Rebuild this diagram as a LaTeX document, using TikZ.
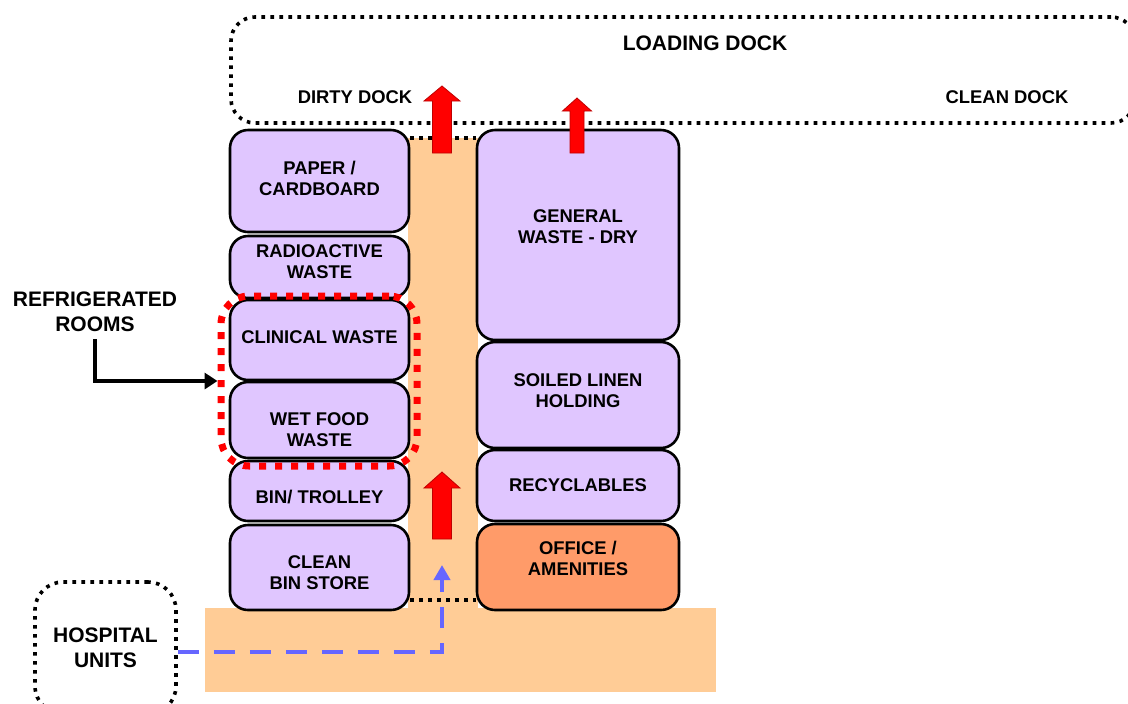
\documentclass[tikz,border=0pt]{standalone}
\usepackage{fontspec}
\setmainfont{Liberation Sans}
\usetikzlibrary{arrows.meta}

\definecolor{roomfill}{RGB}{224,198,255}
\definecolor{corridor}{RGB}{255,204,150}
\definecolor{officefill}{RGB}{255,155,105}
\definecolor{flowblue}{RGB}{102,102,255}

% block arrow: x, tip y, base y, head width, shaft width, head length
\newcommand{\redarrow}[6]{%
  \filldraw[fill=red, draw=red!75!black, line width=0.4pt]
    (#1-#5/2,#3) -- (#1-#5/2,#2+#6) -- (#1-#4/2,#2+#6) -- (#1,#2)
    -- (#1+#4/2,#2+#6) -- (#1+#5/2,#2+#6) -- (#1+#5/2,#3) -- cycle;}
% struts to nudge room labels up / down
\newcommand{\liftby}[1]{\rule[-#1]{0pt}{0pt}}
\newcommand{\dropby}[1]{\rule{0pt}{#1}}

\tikzset{
  room/.style={draw, line width=1.3pt, rounded corners=9pt, fill=roomfill, align=center,
    inner sep=0pt, font=\bfseries\fontsize{9.2}{10.5}\selectfont},
  leftroom/.style={room, minimum width=89.5pt},
  rightroom/.style={room, minimum width=101pt},
  bigtext/.style={align=center, font=\bfseries\fontsize{10.5}{12.5}\selectfont},
  docktext/.style={font=\bfseries\fontsize{9.2}{10.5}\selectfont},
  dotline/.style={line width=1.8pt, dash pattern=on 1.8pt off 2.7pt},
  flow/.style={flowblue, line width=2pt, dash pattern=on 10.5pt off 7.5pt, -{Triangle[length=7.5pt,width=8pt]}}
}

\begin{document}
\begin{tikzpicture}[x=0.5pt, y=-0.5pt]
  \useasboundingbox (0,0) rectangle (1128,703);

  % corridor
  \fill[corridor] (408,138) rectangle (478,608);
  \fill[corridor] (205,608) rectangle (716,692);

  % loading dock
  \node[draw, dotline, rounded corners=12pt, minimum width=452pt, minimum height=53pt] (dock) at (683,70) {};
  \node[bigtext] (docklabel) at (705,43) {LOADING DOCK};
  \node[docktext] (dirty) at (355,97) {DIRTY DOCK};
  \node[docktext] (clean) at (1007,97) {CLEAN DOCK};

  % left rooms
  \node[leftroom, minimum height=51pt] (paper) at (319.5,181) {PAPER /\\CARDBOARD\liftby{3pt}};
  \node[leftroom, minimum height=31pt] (radio) at (319.5,267) {RADIOACTIVE\\WASTE\liftby{5pt}};
  \node[leftroom, minimum height=40pt] (clinical) at (319.5,340) {CLINICAL WASTE\liftby{3pt}};
  \node[leftroom, minimum height=38pt] (wetfood) at (319.5,420) {\dropby{15.8pt}WET FOOD\\WASTE};
  \node[leftroom, minimum height=30pt] (bin) at (319.5,491) {\dropby{12.8pt}BIN/ TROLLEY};
  \node[leftroom, minimum height=42.5pt] (cleanbin) at (319.5,567.5) {\dropby{11.8pt}CLEAN\\BIN STORE};

  % right rooms
  \node[rightroom, minimum height=105pt] (general) at (578,235) {GENERAL\\WASTE - DRY\liftby{8pt}};
  \node[rightroom, minimum height=53pt] (soiled) at (578,395) {SOILED LINEN\\HOLDING\liftby{4pt}};
  \node[rightroom, minimum height=35.5pt] (recycl) at (578,485.5) {RECYCLABLES};
  \node[rightroom, minimum height=43pt, fill=officefill] (office) at (578,567) {OFFICE /\\AMENITIES\liftby{9pt}};

  % corridor ends
  \draw[dotline] (paper.east |- 0,138) -- (general.west |- 0,138);
  \draw[dotline] (cleanbin.east |- 0,600) -- (office.west |- 0,600);

  % refrigerated rooms
  \node[draw=red, line width=3.5pt, dash pattern=on 3.5pt off 4.5pt, rounded corners=14pt,
    minimum width=98pt, minimum height=85pt] (fridge) at (319,381) {};
  \node[bigtext] (refrig) at (95,312) {REFRIGERATED\\ROOMS};
  \draw[line width=2pt, -{Triangle[length=6.5pt,width=8pt]}] (refrig.south) |- (fridge.west);

  % waste flow
  \redarrow{442}{86}{153}{36}{19}{15}
  \redarrow{577}{98}{153}{29}{14}{13}
  \redarrow{442}{472}{539}{36}{19}{16}

  % hospital units
  \node[draw, dotline, rounded corners=14pt, minimum width=70.5pt, minimum height=66pt, bigtext] (hospital) at (105.5,648) {HOSPITAL\\UNITS};
  \coordinate (turn) at (442,652);
  \coordinate (entry) at (442,565);
  \draw[flow] (hospital.east |- turn) -- (turn) -- (entry);
\end{tikzpicture}
\end{document}
